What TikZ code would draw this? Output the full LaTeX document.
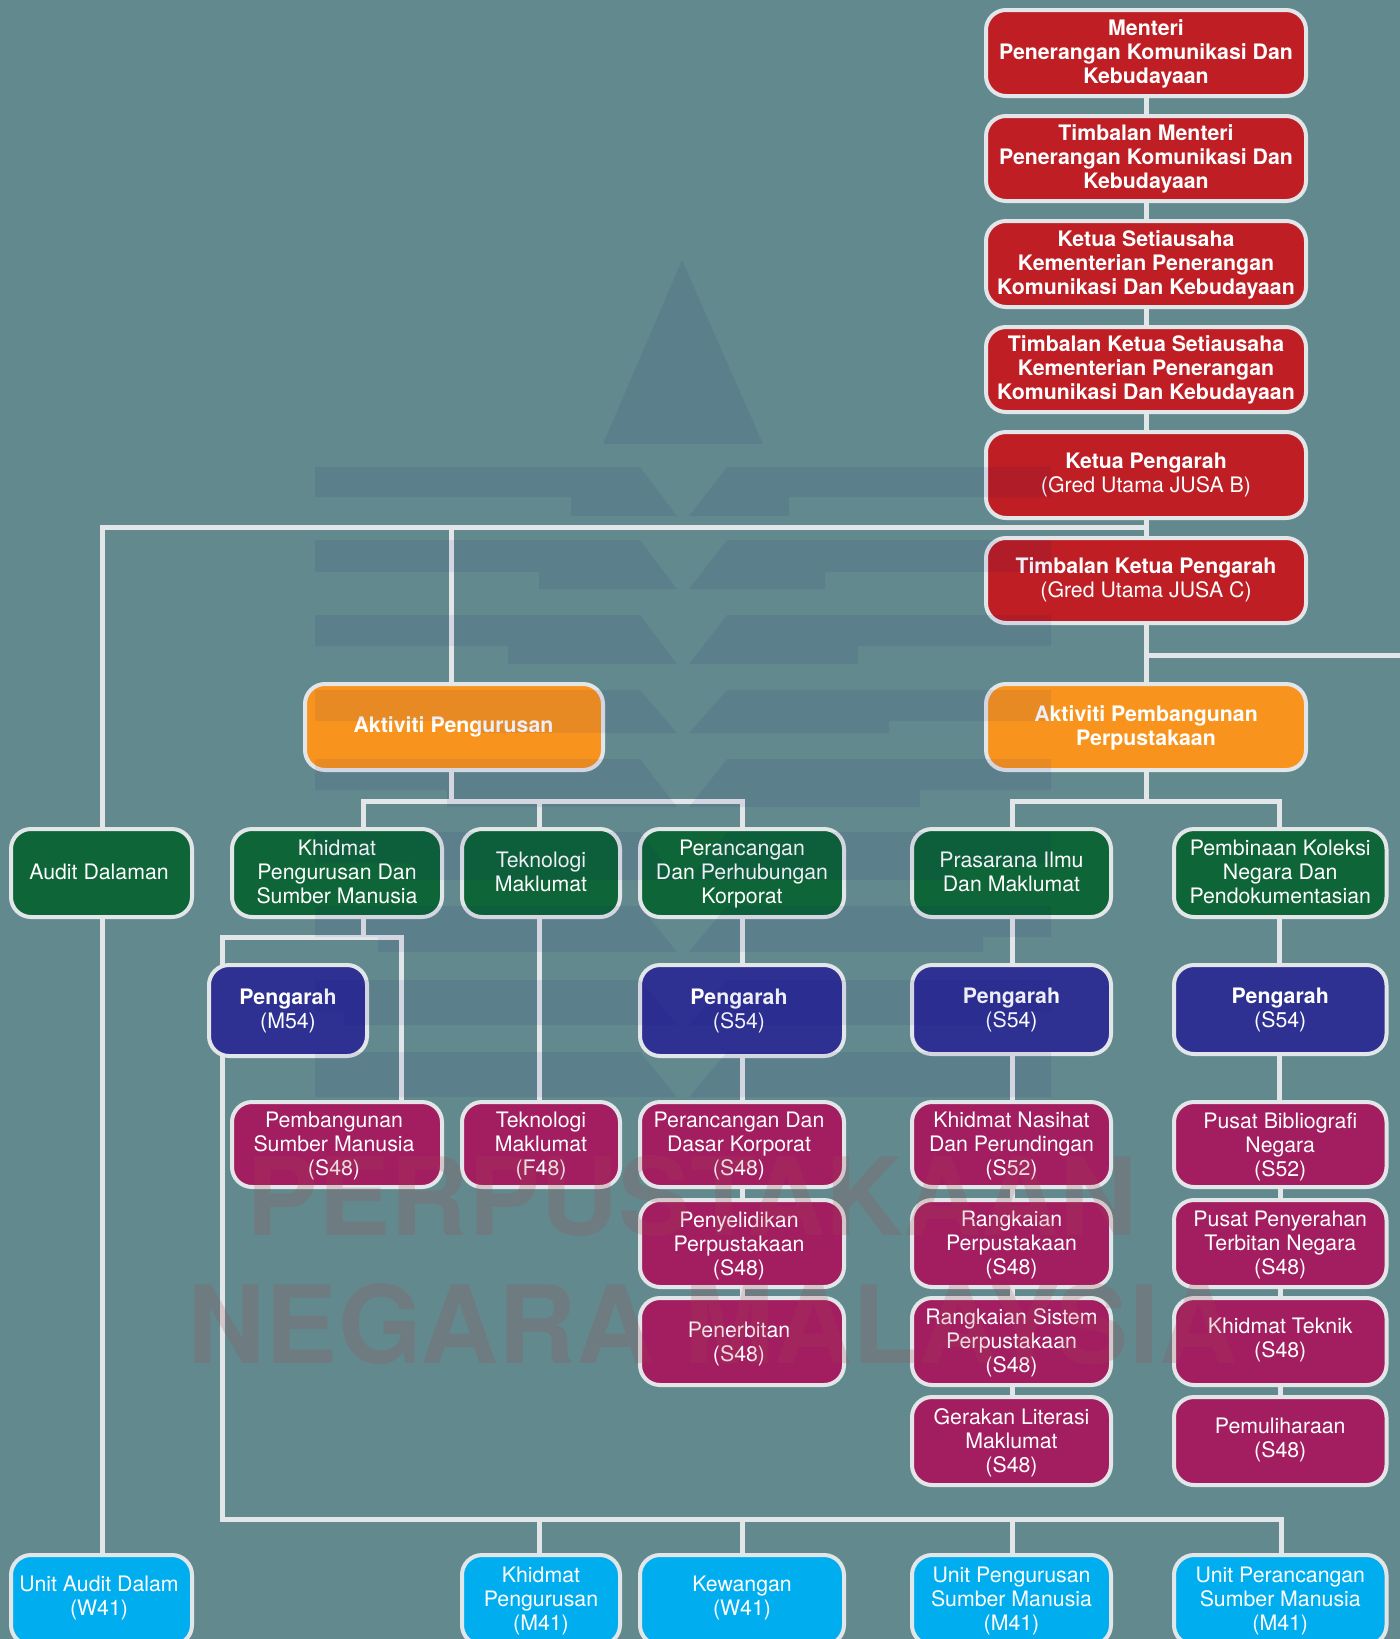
\documentclass[tikz,border=0pt]{standalone}
\usepackage{fontspec}
\setmainfont{TeX Gyre Heros}
\usetikzlibrary{backgrounds}
\definecolor{bgc}{RGB}{98,138,142}
\definecolor{linec}{RGB}{227,230,232}
\definecolor{redc}{RGB}{190,30,36}
\definecolor{orc}{RGB}{248,148,29}
\definecolor{grc}{RGB}{14,101,55}
\definecolor{blc}{RGB}{46,49,146}
\definecolor{mgc}{RGB}{163,30,96}
\definecolor{cyc}{RGB}{0,174,239}
\definecolor{wmbar}{RGB}{10,10,120}
\definecolor{wmtxt}{RGB}{160,70,85}
\pagecolor{bgc}
\tikzset{
  x=1pt,y=-1pt,
  bxs/.style={draw=linec,line width=4pt,rounded corners=20pt,inner sep=0pt,outer sep=0pt,text=white},
  conn/.style={draw=linec,line width=5pt,line join=miter},
  wmpoly/.style={fill=wmbar,fill opacity=0.07,draw=none},
  wmword/.style={text=wmtxt,text opacity=0.2,anchor=base,inner sep=0pt,font=\bfseries\fontsize{108pt}{108pt}\selectfont}
}
\newcommand\lbl[3]{\raisebox{\dimexpr-5.3pt-#2pt\relax}[0pt][0pt]{\makebox[0pt][c]{\kern\dimexpr2\dimexpr#1pt\relax\relax
  \fontsize{21.3pt}{24pt}\selectfont\begin{tabular}[c]{@{}c@{}}#3\end{tabular}}}}
\newcommand\bx[9]{%
  \pgfmathsetmacro\cxx{(#2+#4)/2}\pgfmathsetmacro\cyy{(#3+#5)/2}%
  \pgfmathsetmacro\ww{#4-#2-4}\pgfmathsetmacro\hh{#5-#3-4}%
  \node[bxs,fill=#6,minimum width=\ww pt,minimum height=\hh pt] (#1) at (\cxx,\cyy) {\lbl{#7}{#8}{#9}};}
\begin{document}
\begin{tikzpicture}
\useasboundingbox (1,0) rectangle (1400.5,1639);
% red column
\bx{m1}{985}{8}{1309}{98}{redc}{0}{2}{\textbf{Menteri}\\\textbf{Penerangan Komunikasi Dan}\\\textbf{Kebudayaan}}
\bx{m2}{985}{114}{1309}{203}{redc}{0}{1}{\textbf{Timbalan Menteri}\\\textbf{Penerangan Komunikasi Dan}\\\textbf{Kebudayaan}}
\bx{m3}{985}{219}{1309}{309}{redc}{0}{1.5}{\textbf{Ketua Setiausaha}\\\textbf{Kementerian Penerangan}\\\textbf{Komunikasi Dan Kebudayaan}}
\bx{m4}{985}{325}{1309}{414}{redc}{0}{1.5}{\textbf{Timbalan Ketua Setiausaha}\\\textbf{Kementerian Penerangan}\\\textbf{Komunikasi Dan Kebudayaan}}
\bx{m5}{985}{430}{1309}{520}{redc}{0}{1}{\textbf{Ketua Pengarah}\\(Gred Utama JUSA B)}
\bx{m6}{985}{536}{1309}{625}{redc}{0}{0}{\textbf{Timbalan Ketua Pengarah}\\(Gred Utama JUSA C)}
% orange
\bx{o1}{304}{682}{606}{772}{orc}{-0.5}{1}{\textbf{Aktiviti Pengurusan}}
\bx{o2}{985}{682}{1309}{772}{orc}{0}{1.5}{\textbf{Aktiviti Pembangunan}\\\textbf{Perpustakaan}}
% green
\bx{g1}{10}{827}{195}{919}{grc}{-2.5}{2}{Audit Dalaman}
\bx{g2}{231}{827}{445}{919}{grc}{0}{2}{Khidmat\\Pengurusan Dan\\Sumber Manusia}
\bx{g3}{461}{827}{623}{919}{grc}{0}{2}{Teknologi\\Maklumat}
\bx{g4}{639}{827}{847}{919}{grc}{0}{2}{Perancangan\\Dan Perhubungan\\Korporat}
\bx{g5}{911}{827}{1114}{919}{grc}{0}{2}{Prasarana Ilmu\\Dan Maklumat}
\bx{g6}{1173}{827}{1389.5}{919}{grc}{0}{2}{Pembinaan Koleksi\\Negara Dan\\Pendokumentasian}
% blue
\bx{b1}{208}{963}{370}{1058}{blc}{0}{1.5}{\textbf{Pengarah}\\(M54)}
\bx{b2}{639}{963}{847}{1058}{blc}{-3}{1.5}{\textbf{Pengarah}\\(S54)}
\bx{b3}{911}{963}{1114}{1056}{blc}{0}{1.5}{\textbf{Pengarah}\\(S54)}
\bx{b4}{1173}{963}{1389.5}{1056}{blc}{0}{1.5}{\textbf{Pengarah}\\(S54)}
% magenta
\bx{p1}{231}{1100}{445}{1189}{mgc}{-3}{2.5}{Pembangunan\\Sumber Manusia\\(S48)}
\bx{p2}{461}{1100}{623}{1189}{mgc}{0}{2.5}{Teknologi\\Maklumat\\(F48)}
\bx{p3a}{639}{1100}{847}{1189}{mgc}{-3}{2.5}{Perancangan Dan\\Dasar Korporat\\(S48)}
\bx{p3b}{639}{1198}{847}{1289}{mgc}{-3}{3}{Penyelidikan\\Perpustakaan\\(S48)}
\bx{p3c}{639}{1296}{847}{1387}{mgc}{-3}{3}{Penerbitan\\(S48)}
\bx{p4a}{911}{1100}{1114}{1189}{mgc}{0}{2.5}{Khidmat Nasihat\\Dan Perundingan\\(S52)}
\bx{p4b}{911}{1198}{1114}{1289}{mgc}{0}{2}{Rangkaian\\Perpustakaan\\(S48)}
\bx{p4c}{911}{1296}{1114}{1387}{mgc}{0}{2}{Rangkaian Sistem\\Perpustakaan\\(S48)}
\bx{p4d}{911}{1395}{1114}{1487}{mgc}{0}{3}{Gerakan Literasi\\Maklumat\\(S48)}
\bx{p5a}{1173}{1100}{1389.5}{1189}{mgc}{0}{3}{Pusat Bibliografi\\Negara\\(S52)}
\bx{p5b}{1173}{1198}{1389.5}{1289}{mgc}{0}{2}{Pusat Penyerahan\\Terbitan Negara\\(S48)}
\bx{p5c}{1173}{1296}{1389.5}{1387}{mgc}{0}{-1}{Khidmat Teknik\\(S48)}
\bx{p5d}{1173}{1395}{1389.5}{1487}{mgc}{0}{0}{Pemuliharaan\\(S48)}
% cyan (cut by the page edge)
\bx{c1}{10}{1553}{195}{1647}{cyc}{-2.5}{-1}{Unit Audit Dalam\\(W41)}
\bx{c2}{461}{1553}{623}{1647}{cyc}{0}{2}{Khidmat\\Pengurusan\\(M41)}
\bx{c3}{639}{1553}{847}{1647}{cyc}{0}{-1}{Kewangan\\(W41)}
\bx{c4}{911}{1553}{1114}{1647}{cyc}{0}{2}{Unit Pengurusan\\Sumber Manusia\\(M41)}
\bx{c5}{1173}{1553}{1389.5}{1647}{cyc}{0}{2}{Unit Perancangan\\Sumber Manusia\\(M41)}
% junctions
\coordinate (jT) at (1147,527);
\coordinate (jA) at (103,527);
\coordinate (jB) at (452,527);
\coordinate (jR) at (1147,655);
\coordinate (eR) at (1410,655);
\coordinate (jC) at (452,801);
\coordinate (jD) at (364,801);
\coordinate (jE) at (540,801);
\coordinate (jF) at (743,801);
\coordinate (jH) at (1147,801);
\coordinate (jI) at (1013,801);
\coordinate (jJ) at (1280.5,801);
\coordinate (jK) at (364,937);
\coordinate (jL) at (223,937);
\coordinate (jM) at (402,937);
\coordinate (jN) at (223,1519);
\coordinate (jP) at (1282,1519);
\coordinate (jQ) at (540,1519);
\coordinate (jS) at (743,1519);
\coordinate (jU) at (1013,1519);
\begin{scope}[on background layer]
\fill[bgc] (-5,-5) rectangle (1410,1645);
\draw[conn] (m1)--(m2);
\draw[conn] (m2)--(m3);
\draw[conn] (m3)--(m4);
\draw[conn] (m4)--(m5);
\draw[conn] (m5)--(m6);
\draw[conn] (m6)--(o2);
\draw[conn] (jR)--(eR);
\draw[conn] (jT)--(jA)--(jA |- g1.north);
\draw[conn] (jB)--(jB |- o1.north);
\draw[conn] (jB |- o1.south)--(jC);
\draw[conn] (jD |- g2.north)--(jD)--(jF)--(jF |- g4.north);
\draw[conn] (jE)--(jE |- g3.north);
\draw[conn] (o2)--(jH);
\draw[conn] (jI |- g5.north)--(jI)--(jJ)--(jJ |- g6.north);
\draw[conn] (jD |- g2.south)--(jK);
\draw[conn] (jM |- p1.north)--(jM)--(jL)--(jN)--(jP)--(jP |- c5.north);
\draw[conn] (jQ)--(jQ |- c2.north);
\draw[conn] (jS)--(jS |- c3.north);
\draw[conn] (jU)--(jU |- c4.north);
\draw[conn] (jA |- g1.south)--(jA |- c1.north);
\draw[conn] (jE |- g3.south)--(jE |- p2.north);
\draw[conn] (jF |- g4.south)--(jF |- b2.north);
\draw[conn] (jF |- b2.south)--(jF |- p3a.north);
\draw[conn] (jF |- p3a.south)--(jF |- p3b.north);
\draw[conn] (jF |- p3b.south)--(jF |- p3c.north);
\draw[conn] (jI |- g5.south)--(jI |- b3.north);
\draw[conn] (jI |- b3.south)--(jI |- p4a.north);
\draw[conn] (jI |- p4a.south)--(jI |- p4b.north);
\draw[conn] (jI |- p4b.south)--(jI |- p4c.north);
\draw[conn] (jI |- p4c.south)--(jI |- p4d.north);
\draw[conn] (jJ |- g6.south)--(jJ |- b4.north);
\draw[conn] (jJ |- b4.south)--(jJ |- p5a.north);
\draw[conn] (p5a)--(p5b);
\draw[conn] (p5b)--(p5c);
\draw[conn] (p5c)--(p5d);
\end{scope}
% watermark, over everything
\fill[wmpoly] (683,260) -- (764,444) -- (604,444) -- cycle;
\foreach \T/\M/\B/\L/\R in {467/497/516/572/790,540/572/589/540/826,615/646/664/509/859,690/721/733/478/890,759/790/807/448/921,832/863/880/413/953,906/937/952/379/984,980/1011/1025/345/1015,1052/1090/1097/316/1052}{
  \fill[wmpoly] (316,\T) -- (641,\T) -- (678,\B) -- (\L,\B) -- (\L,\M) -- (316,\M) -- cycle;
  \fill[wmpoly] (728,\T) -- (1052,\T) -- (1052,\M) -- (\R,\M) -- (\R,\B) -- (690,\B) -- cycle;
}
\node[wmword] (wm1) at (693,1235) {PERPUSTAKAAN};
\node[wmword] (wm2) at (713.5,1363) {NEGARA MALAYSIA};
\end{tikzpicture}
\end{document}
